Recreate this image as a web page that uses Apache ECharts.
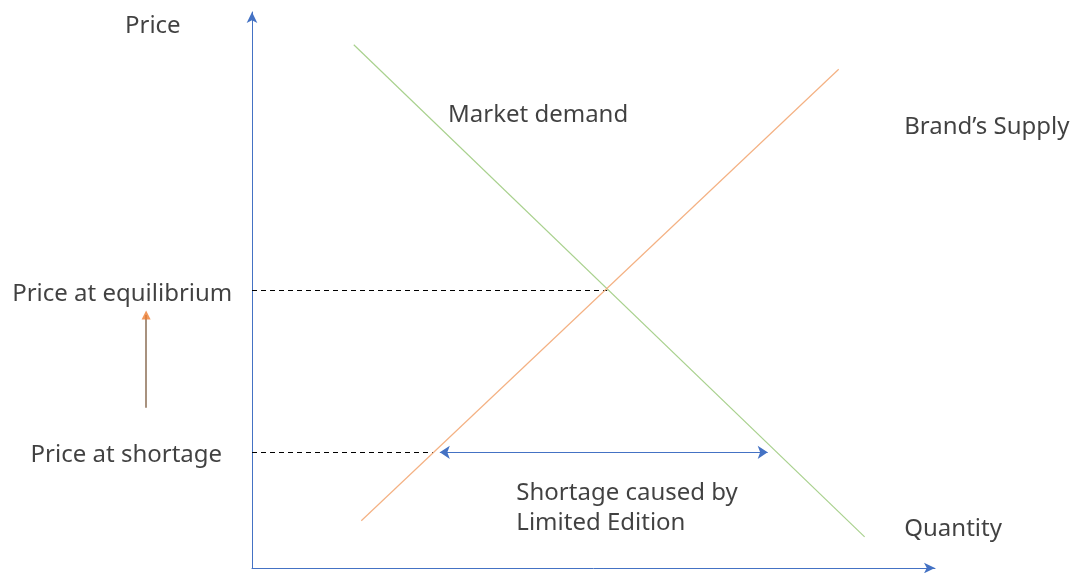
<!DOCTYPE html>
<html>
<head>
<meta charset="utf-8">
<script src="https://cdn.jsdelivr.net/npm/echarts@6/dist/echarts.min.js"></script>
<style>
  html, body { margin: 0; padding: 0; background: #fff; }
  #main { width: 1075px; height: 573px; }
</style>
</head>
<body>
<div id="main"></div>
<script>
    // quantity / price in chart units (axes run 0..10)
    var demandLine = [[1.49, 9.41], [8.97, 0.56]];
    var supplyLine = [[1.60, 0.85], [8.59, 8.97]];
    var equilibrium = [5.20, 5.0];
    var shortagePrice = 2.08;
    var supplyAtShortage = 2.66;
    var shortageArrow = [[2.75, 2.08], [7.55, 2.08]];
    var priceRise = [[-1.55, 2.88], [-1.55, 4.55]];

    var labels = [
        {value: [-1.86, 9.74], text: 'Price', align: 'left'},
        {value: [2.87, 8.14], text: 'Market demand', align: 'left'},
        {value: [9.55, 7.93], text: 'Brand\u2019s Supply', align: 'left'},
        {value: [-1.90, 4.92], text: 'Price at equilibrium', align: 'center'},
        {value: [-1.84, 2.03], text: 'Price at shortage', align: 'center'},
        {value: [3.87, 1.08], text: 'Shortage caused by\nLimited Edition', align: 'left'},
        {value: [9.55, 0.70], text: 'Quantity', align: 'left'}
    ];

    var font = '"Noto Sans", sans-serif';
    var axisBlue = '#4472c4';

    function drawChart() {
        var option = {
            animation: false,
            grid: {left: 252, right: 140, top: 12, bottom: 5, containLabel: false},
            xAxis: {
                type: 'value', min: 0, max: 10,
                axisLine: {show: true, symbol: ['none', 'arrow'], symbolSize: [8, 11], lineStyle: {color: axisBlue, width: 1}},
                axisTick: {show: false}, axisLabel: {show: false}, splitLine: {show: false}
            },
            yAxis: {
                type: 'value', min: 0, max: 10,
                axisLine: {show: true, symbol: ['none', 'arrow'], symbolSize: [8, 11], lineStyle: {color: axisBlue, width: 1}},
                axisTick: {show: false}, axisLabel: {show: false}, splitLine: {show: false}
            },
            series: [
                {
                    name: 'demand', type: 'line', data: demandLine, symbol: 'none',
                    lineStyle: {color: '#a9d18e', width: 1.2}
                },
                {
                    name: 'supply', type: 'line', data: supplyLine, symbol: 'none',
                    lineStyle: {color: '#f4b183', width: 1.2}
                },
                {
                    name: 'guides', type: 'lines', coordinateSystem: 'cartesian2d', clip: false,
                    lineStyle: {color: '#000', width: 1, type: [5, 4], opacity: 1},
                    data: [
                        {coords: [[0, equilibrium[1]], equilibrium]},
                        {coords: [[0, shortagePrice], [supplyAtShortage, shortagePrice]]}
                    ]
                },
                {
                    name: 'shortage', type: 'lines', coordinateSystem: 'cartesian2d',
                    symbol: ['arrow', 'arrow'], symbolSize: 10,
                    lineStyle: {color: axisBlue, width: 1, opacity: 1},
                    data: [{coords: shortageArrow}]
                },
                {
                    name: 'rise', type: 'lines', coordinateSystem: 'cartesian2d', clip: false,
                    lineStyle: {color: '#a8927f', width: 2, opacity: 1},
                    data: [{coords: priceRise}]
                },
                {
                    name: 'riseHead', type: 'scatter', clip: false, symbol: 'triangle',
                    symbolSize: [9, 9], itemStyle: {color: '#ed7d31'},
                    data: [priceRise[1]]
                },
                {
                    name: 'labels', type: 'scatter', clip: false, symbolSize: 0,
                    data: labels.map(function (d) {
                        return {
                            value: d.value,
                            label: {
                                show: true, position: 'inside', formatter: d.text,
                                align: d.align, verticalAlign: 'middle',
                                color: '#111', fontSize: 24, fontFamily: font, lineHeight: 30
                            }
                        };
                    })
                }
            ]
        };
        var myChart = echarts.init(document.getElementById('main'));
        myChart.setOption(option);
    }
    drawChart();
</script>
</body>
</html>
